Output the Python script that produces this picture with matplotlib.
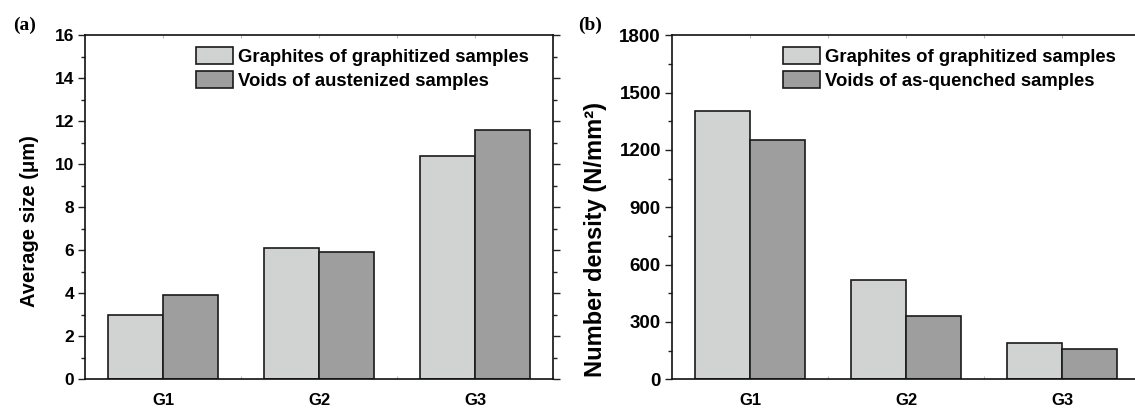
"""Two-panel bar chart: average size and number density of graphites / voids."""
import matplotlib
matplotlib.use("Agg")
import matplotlib.pyplot as plt
import numpy as np
from matplotlib.ticker import MultipleLocator, FixedLocator

plt.rcParams["font.family"] = ["Liberation Sans", "DejaVu Sans"]
plt.rcParams["font.weight"] = "bold"

groups = ["G1", "G2", "G3"]

size_graphite = [3.0, 6.1, 10.4]
size_void = [3.9, 5.9, 11.6]

density_graphite = [1405, 520, 190]
density_void = [1250, 330, 160]

label_graphite = "Graphites of graphitized samples"
label_void_a = "Voids of austenized samples"
label_void_b = "Voids of as-quenched samples"

LIGHT = "#d1d3d2"
DARK = "#9d9e9d"
EDGE = "#1a1a1a"
BAR_W = 0.35

fig = plt.figure(figsize=(11.35, 4.09), dpi=100)
ax_a = fig.add_axes([85 / 1135, 29.7 / 409, 468 / 1135, 344 / 409])
ax_b = fig.add_axes([672 / 1135, 29.7 / 409, 468 / 1135, 344 / 409])


def draw_panel(ax, light, dark, void_label, ymax, major, minor, ylabel,
               ylabel_size, ytick_size, label_xy):
    x = np.arange(1, len(groups) + 1)
    ax.bar(x - BAR_W / 2, light, BAR_W, color=LIGHT, edgecolor=EDGE,
           linewidth=1.2, label=label_graphite, zorder=2)
    ax.bar(x + BAR_W / 2, dark, BAR_W, color=DARK, edgecolor=EDGE,
           linewidth=1.2, label=void_label, zorder=2)

    ax.set_xlim(0.5, 3.5)
    ax.set_ylim(0, ymax)
    ax.set_xticks(x)
    ax.set_xticklabels(groups)
    ax.xaxis.set_minor_locator(FixedLocator([1.5, 2.5, 3.5]))
    ax.yaxis.set_major_locator(MultipleLocator(major))
    ax.yaxis.set_minor_locator(MultipleLocator(minor))

    ax.tick_params(axis="y", which="both", direction="out", left=True,
                   right=True, width=1.0, color="#222222",
                   labelsize=ytick_size, pad=3)
    ax.tick_params(axis="y", which="major", length=5)
    ax.tick_params(axis="y", which="minor", length=3)
    ax.tick_params(axis="x", which="both", direction="in", bottom=True,
                   top=True, length=2, width=0.8, color="#bbbbbb",
                   labelsize=12, pad=10)
    for sp in ax.spines.values():
        sp.set_linewidth(1.2)
        sp.set_color("#111111")

    ax.set_ylabel(ylabel, fontsize=ylabel_size, fontweight="bold")
    ax.yaxis.set_label_coords(*label_xy)

    ax.legend(loc="upper left", bbox_to_anchor=(0.237, 0.965), frameon=False,
              handlelength=2.0, handleheight=1.0,
              handletextpad=0.3, labelspacing=0.28, borderpad=0,
              borderaxespad=0, prop={"weight": "bold", "size": 13.3})
    plt.setp(ax.get_xticklabels() + ax.get_yticklabels(), fontweight="bold")


draw_panel(ax_a, size_graphite, size_void, label_void_a, 16, 2, 1,
           "Average size (\u03bcm)", 14.5, 12.5, (-0.098, 0.46))
draw_panel(ax_b, density_graphite, density_void, label_void_b, 1800, 300, 150,
           "Number density (N/mm\u00b2)", 17, 13.5, (-0.139, 0.405))

fig.text(13 / 1135, 1 - 30 / 409, "(a)", family="Liberation Serif",
         fontweight="bold", fontsize=14, va="baseline")
fig.text(578 / 1135, 1 - 30 / 409, "(b)", family="Liberation Serif",
         fontweight="bold", fontsize=14, va="baseline")

fig.savefig("out.png", dpi=100)
